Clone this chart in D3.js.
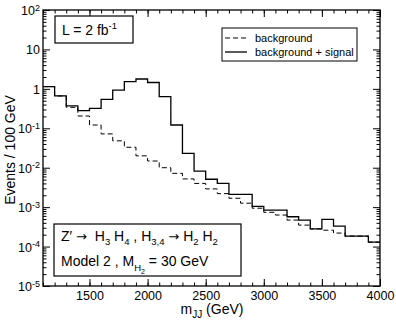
<!DOCTYPE html>
<html>
<head>
<meta charset="utf-8">
<script src="https://cdn.jsdelivr.net/npm/d3@7"></script>
<style>
  body { margin: 0; background: #fff; }
  svg { font-family: "Liberation Sans", Arial, sans-serif; }
</style>
</head>
<body>
<script>
// lower edges of the 100 GeV bins
var binEdges = [1100, 1200, 1300, 1400, 1500, 1600, 1700, 1800, 1900, 2000,
                2100, 2200, 2300, 2400, 2500, 2600, 2700, 2800, 2900, 3000,
                3100, 3200, 3300, 3400, 3500, 3600, 3700, 3800, 3900];
var lastEdge = 4000;

// events / 100 GeV, background only
var background = [1.14, 0.66, 0.34, 0.205, 0.121, 0.072, 0.048, 0.033, 0.020, 0.0148,
                  0.0100, 0.0072, 0.0052, 0.0040, 0.0029, 0.0022, 0.00168, 0.00126, 0.00094, 0.00074,
                  0.00063, 0.00047, 0.00035, 0.00028, 0.00026, 0.00022, 0.000185, 0.000185, 0.00013];

// events / 100 GeV, background + signal
var bgSignal = [1.14, 0.66, 0.37, 0.28, 0.32, 0.54, 0.93, 1.52, 1.78, 1.45,
                0.635, 0.121, 0.0232, 0.0082, 0.0051, 0.0040, 0.0021, 0.0021, 0.00104, 0.00084,
                0.00084, 0.00057, 0.00047, 0.00028, 0.00049, 0.00033, 0.000185, 0.000185, 0.00013];

var xTicks = [1500, 2000, 2500, 3000, 3500, 4000];
var yDecades = [1e-5, 1e-4, 1e-3, 1e-2, 1e-1, 1, 10, 100];
var yExponents = ["-5", "-4", "-3", "-2", "-1", "", "", "2"];
var yBase = ["10", "10", "10", "10", "10", "1", "10", "10"];

var W = 396, H = 322;
var margin = {top: 10, right: 16, bottom: 36, left: 43};

var svg = d3.select("body").append("svg")
    .attr("width", W)
    .attr("height", H);

var x = d3.scaleLinear()
    .domain([1100, 4000])
    .range([margin.left, W - margin.right]);

var y = d3.scaleLog()
    .domain([1e-5, 1e2])
    .range([H - margin.bottom, margin.top]);

// minor ticks
var xMinor = d3.range(1100, 4001, 100);
var yMinor = [];
yDecades.slice(0, -1).forEach(function(d) {
  for (var k = 2; k <= 9; k++) yMinor.push(d * k);
});

function styleAxis(g) {
  g.select(".domain").remove();
  g.selectAll("line").attr("stroke", "#000").attr("stroke-width", 1);
  g.selectAll("text").attr("fill", "#000").attr("font-size", 12.5);
}

// bottom
svg.append("g")
    .attr("transform", "translate(0," + y.range()[0] + ")")
    .call(d3.axisBottom(x).tickValues(xMinor).tickSize(-3.5).tickSizeOuter(0).tickFormat(""))
    .call(styleAxis);
svg.append("g")
    .attr("transform", "translate(0," + y.range()[0] + ")")
    .call(d3.axisBottom(x).tickValues(xTicks).tickSize(-7).tickSizeOuter(0).tickPadding(5).tickFormat(d3.format("d")))
    .call(styleAxis);

// top
svg.append("g")
    .attr("transform", "translate(0," + y.range()[1] + ")")
    .call(d3.axisTop(x).tickValues(xMinor).tickSize(-3.5).tickSizeOuter(0).tickFormat(""))
    .call(styleAxis);
svg.append("g")
    .attr("transform", "translate(0," + y.range()[1] + ")")
    .call(d3.axisTop(x).tickValues(xTicks).tickSize(-7).tickSizeOuter(0).tickFormat(""))
    .call(styleAxis);

// left
svg.append("g")
    .attr("transform", "translate(" + x.range()[0] + ",0)")
    .call(d3.axisLeft(y).tickValues(yMinor).tickSize(-3.5).tickSizeOuter(0).tickFormat(""))
    .call(styleAxis);
var yAxisG = svg.append("g")
    .attr("transform", "translate(" + x.range()[0] + ",0)")
    .call(d3.axisLeft(y).tickValues(yDecades).tickSize(-7).tickSizeOuter(0).tickPadding(3).tickFormat(""))
    .call(styleAxis);

// tick labels with superscript exponents
yAxisG.selectAll(".tick").each(function(d, i) {
  var t = d3.select(this).append("text")
      .attr("x", -3)
      .attr("dy", "0.36em")
      .attr("text-anchor", "end")
      .attr("font-size", 12.5)
      .attr("fill", "#000");
  t.append("tspan").text(yBase[i]);
  if (yExponents[i] !== "") {
    t.append("tspan").attr("dy", "-0.5em").attr("font-size", 9).text(yExponents[i]);
  }
});

// right
svg.append("g")
    .attr("transform", "translate(" + x.range()[1] + ",0)")
    .call(d3.axisRight(y).tickValues(yMinor).tickSize(-3.5).tickSizeOuter(0).tickFormat(""))
    .call(styleAxis);
svg.append("g")
    .attr("transform", "translate(" + x.range()[1] + ",0)")
    .call(d3.axisRight(y).tickValues(yDecades).tickSize(-7).tickSizeOuter(0).tickFormat(""))
    .call(styleAxis);

// frame
svg.append("rect")
    .attr("x", x.range()[0])
    .attr("y", y.range()[1])
    .attr("width", x.range()[1] - x.range()[0])
    .attr("height", y.range()[0] - y.range()[1])
    .attr("fill", "none")
    .attr("stroke", "#000")
    .attr("stroke-width", 1.3);

// step histograms
function stepData(vals) {
  var pts = binEdges.map(function(e, i) { return [e, vals[i]]; });
  pts.push([lastEdge, vals[vals.length - 1]]);
  return pts;
}
var stepLine = d3.line()
    .x(function(d) { return x(d[0]); })
    .y(function(d) { return y(d[1]); })
    .curve(d3.curveStepAfter);

svg.append("path")
    .datum(stepData(background))
    .attr("d", stepLine)
    .attr("fill", "none")
    .attr("stroke", "#000")
    .attr("stroke-width", 1)
    .attr("stroke-dasharray", "5,3");

svg.append("path")
    .datum(stepData(bgSignal))
    .attr("d", stepLine)
    .attr("fill", "none")
    .attr("stroke", "#000")
    .attr("stroke-width", 1.3);

// axis titles
var xt = svg.append("text")
    .attr("x", 212)
    .attr("y", 314)
    .attr("text-anchor", "middle")
    .attr("font-size", 14);
xt.append("tspan").text("m");
xt.append("tspan").attr("dy", 4).attr("font-size", 10).text("JJ");
xt.append("tspan").attr("dy", -4).text(" (GeV)");

svg.append("text")
    .attr("transform", "translate(15,150) rotate(-90)")
    .attr("text-anchor", "middle")
    .attr("font-size", 14)
    .text("Events / 100 GeV");

// luminosity box
svg.append("rect")
    .attr("x", 55).attr("y", 16).attr("width", 78).attr("height", 27)
    .attr("fill", "#fff").attr("stroke", "#000").attr("stroke-width", 1.2);
var lt = svg.append("text").attr("x", 62).attr("y", 35).attr("font-size", 14);
lt.append("tspan").text("L = 2 fb");
lt.append("tspan").attr("dy", -6).attr("font-size", 9.5).text("-1");

// legend
svg.append("rect")
    .attr("x", 222).attr("y", 28).attr("width", 135).attr("height", 33)
    .attr("fill", "#fff").attr("stroke", "#000").attr("stroke-width", 1);
svg.append("line")
    .attr("x1", 225).attr("x2", 247).attr("y1", 38).attr("y2", 38)
    .attr("stroke", "#000").attr("stroke-width", 1).attr("stroke-dasharray", "5,3");
svg.append("line")
    .attr("x1", 225).attr("x2", 247).attr("y1", 52).attr("y2", 52)
    .attr("stroke", "#000").attr("stroke-width", 1.3);
svg.append("text").attr("x", 255).attr("y", 42).attr("font-size", 11).text("background");
svg.append("text").attr("x", 255).attr("y", 56).attr("font-size", 11).text("background + signal");

// process box
svg.append("rect")
    .attr("x", 54).attr("y", 224).attr("width", 187).attr("height", 52)
    .attr("fill", "#fff").attr("stroke", "#000").attr("stroke-width", 1.2);
var arrowFont = "DejaVu Sans";
var p1 = svg.append("text").attr("x", 61).attr("y", 241).attr("font-size", 14)
    .style("white-space", "pre");
p1.append("tspan").text("Z\u2032 ");
p1.append("tspan").attr("font-family", arrowFont).attr("font-size", 13).text("\u2192");
p1.append("tspan").text("  H");
p1.append("tspan").attr("dy", 4).attr("font-size", 9.5).text("3");
p1.append("tspan").attr("dy", -4).text(" H");
p1.append("tspan").attr("dy", 4).attr("font-size", 9.5).text("4");
p1.append("tspan").attr("dy", -4).text(" , H");
p1.append("tspan").attr("dy", 4).attr("font-size", 9.5).text("3,4");
p1.append("tspan").attr("dy", -4).text(" ");
p1.append("tspan").attr("font-family", arrowFont).attr("font-size", 13).text("\u2192");
p1.append("tspan").text(" H");
p1.append("tspan").attr("dy", 4).attr("font-size", 9.5).text("2");
p1.append("tspan").attr("dy", -4).text(" H");
p1.append("tspan").attr("dy", 4).attr("font-size", 9.5).text("2");

var p2 = svg.append("text").attr("x", 61).attr("y", 266).attr("font-size", 14);
p2.append("tspan").text("Model 2 , M");
p2.append("tspan").attr("dy", 5).attr("font-size", 9.5).text("H");
p2.append("tspan").attr("dy", 3).attr("font-size", 7).text("2");
p2.append("tspan").attr("dy", -8).text(" = 30 GeV");
</script>
</body>
</html>
